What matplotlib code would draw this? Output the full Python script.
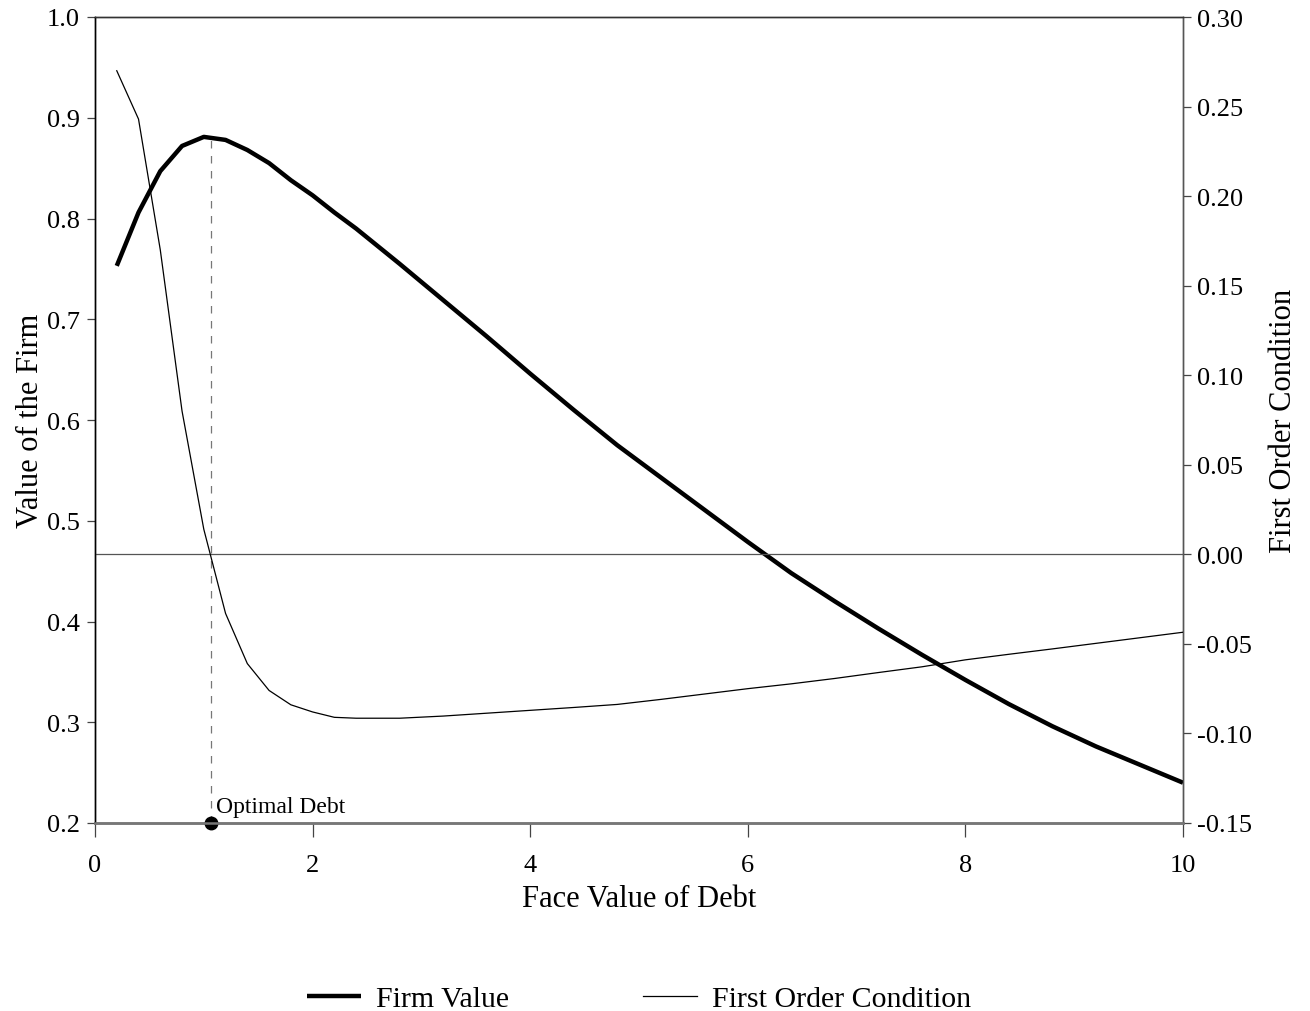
import matplotlib.pyplot as plt
import numpy as np

plt.rcParams['font.family'] = ['Liberation Serif', 'DejaVu Serif']
plt.rcParams['axes.unicode_minus'] = False

# face value of debt grid
debt = [0.2, 0.4, 0.6, 0.8, 1.0, 1.2, 1.4, 1.6, 1.8, 2.0, 2.2, 2.4, 2.8, 3.2, 3.6,
        4.0, 4.4, 4.8, 5.2, 5.6, 6.0, 6.4, 6.8, 7.2, 7.6, 8.0, 8.4, 8.8, 9.2,
        9.6, 10.0]

firm_value = [0.753, 0.806, 0.847, 0.872, 0.881, 0.878, 0.868, 0.855, 0.838,
              0.823, 0.806, 0.790, 0.755, 0.719, 0.683, 0.646, 0.610, 0.575,
              0.543, 0.511, 0.479, 0.448, 0.420, 0.393, 0.367, 0.342, 0.318,
              0.296, 0.276, 0.258, 0.240]

foc = [0.270, 0.243, 0.170, 0.080, 0.014, -0.033, -0.061, -0.076, -0.084,
       -0.088, -0.091, -0.0915, -0.0915, -0.0903, -0.0887, -0.0871, -0.0855,
       -0.0838, -0.0810, -0.0780, -0.0750, -0.0723, -0.0693, -0.0660, -0.0628,
       -0.0589, -0.0558, -0.0528, -0.0497, -0.0466, -0.0435]

optimal_debt = 1.07
peak_value = 0.881

fig = plt.figure(figsize=(13.1, 10.12), dpi=100)
ax = fig.add_axes([95 / 1310, 1 - 824 / 1012, (1183 - 95) / 1310, (824 - 18) / 1012])
ax2 = ax.twinx()

ln1, = ax.plot(debt, firm_value, color='black', lw=3.2, solid_capstyle='butt',
               label='Firm Value', zorder=4)
ln2, = ax2.plot(debt, foc, color='black', lw=0.9, label='First Order Condition',
                zorder=3)
ax2.axhline(0, color='#555555', lw=0.9)

ax.plot([optimal_debt, optimal_debt], [0.2, peak_value], color='#777777',
        lw=0.9, ls=(0, (6, 6)))
ax.plot([optimal_debt], [0.2], 'o', color='black', ms=9, clip_on=False, zorder=6)
ax.text(optimal_debt + 0.04, 0.211, 'Optimal Debt', fontsize=17)

ax.set_xlim(0, 10)
ax.set_ylim(0.2, 1.0)
ax2.set_ylim(-0.15, 0.30)
ax.set_xticks([0, 2, 4, 6, 8, 10])
ax.set_yticks(np.arange(0.2, 1.01, 0.1))
ax.set_yticklabels([f'{v:.1f}' for v in np.arange(0.2, 1.01, 0.1)])
ax2.set_yticks(np.arange(-0.15, 0.301, 0.05))
ax2.set_yticklabels([f'{v:.2f}' if abs(v) > 1e-9 else '0.00'
                     for v in np.arange(-0.15, 0.301, 0.05)])

ax.tick_params(axis='x', direction='out', length=10, width=0.9, labelsize=19,
               pad=12, color='#444444')
ax.tick_params(axis='y', direction='out', length=6, width=0.9, labelsize=19,
               pad=5, color='#444444')
ax2.tick_params(axis='y', direction='out', length=6, width=0.9, labelsize=19,
                pad=4, color='#444444')

for a in (ax, ax2):
    a.spines['bottom'].set_color('#777777')
    a.spines['bottom'].set_linewidth(1.8)
    a.spines['top'].set_color('#333333')
    a.spines['top'].set_linewidth(1.0)
    a.spines['left'].set_color('black')
    a.spines['left'].set_linewidth(1.0)
    a.spines['right'].set_color('#555555')
    a.spines['right'].set_linewidth(1.0)

ax.set_xlabel('Face Value of Debt', fontsize=22, labelpad=6)
ax.set_ylabel('Value of the Firm', fontsize=22, labelpad=1)
ax2.set_ylabel('First Order Condition', fontsize=22, labelpad=12)

fig.legend(handles=[ln1, ln2], loc='lower center', bbox_to_anchor=(0.488, -0.028),
           ncol=2, frameon=False, fontsize=21.5, handlelength=1.8,
           columnspacing=4.5, handletextpad=0.5)

fig.savefig('out.png', dpi=100)
